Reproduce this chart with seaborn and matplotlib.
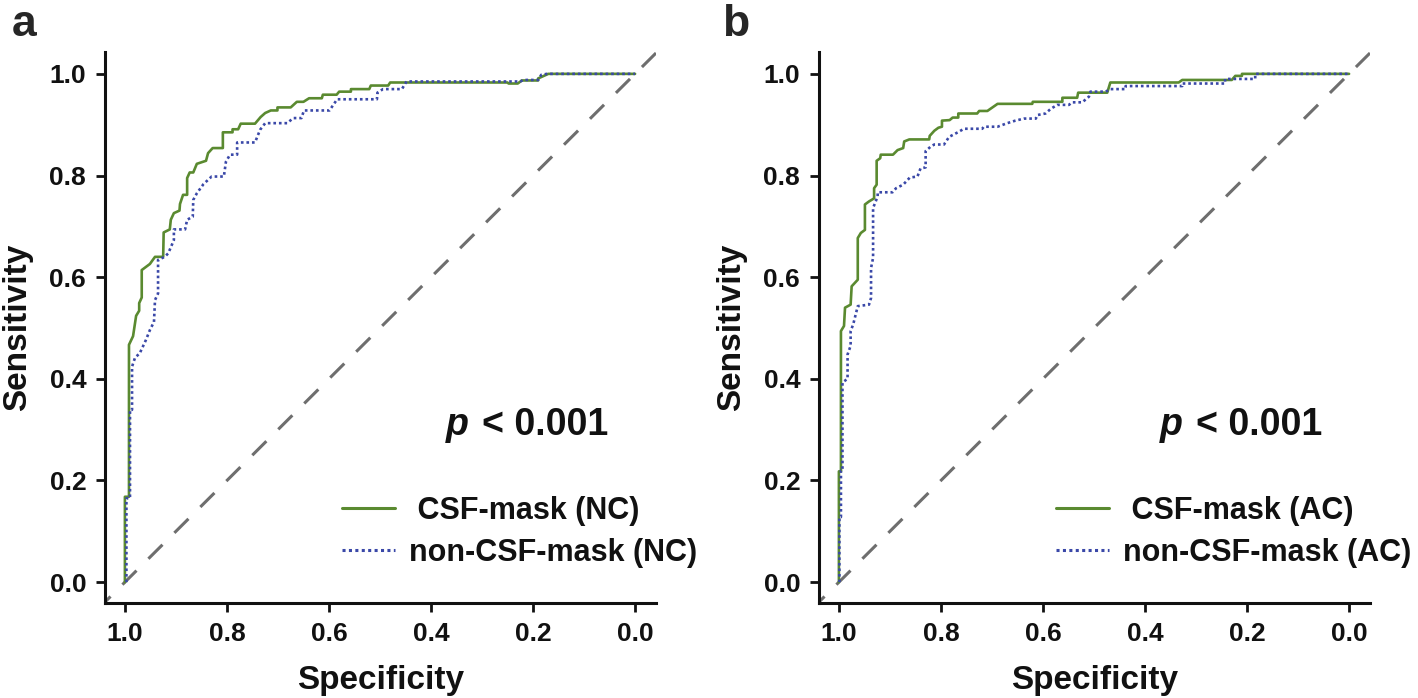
import numpy as np
import pandas as pd
import matplotlib
matplotlib.use("Agg")
import matplotlib.pyplot as plt
import seaborn as sns

# ---------------- data (1 - specificity, sensitivity) ----------------
a_csf_fpr = [0.0, 0.0, 0.008, 0.008, 0.016, 0.022, 0.028, 0.028, 0.033, 0.033, 0.049, 0.059, 0.075, 0.076,
             0.088, 0.090, 0.096, 0.107, 0.108, 0.114, 0.122, 0.122, 0.127, 0.134, 0.141, 0.159, 0.163, 0.172,
             0.192, 0.192, 0.211, 0.211, 0.222, 0.227, 0.255, 0.266, 0.275, 0.286, 0.299, 0.299, 0.325, 0.337,
             0.350, 0.361, 0.386, 0.388, 0.415, 0.420, 0.443, 0.443, 0.479, 0.482, 0.516, 0.520, 0.750, 0.752,
             0.770, 0.778, 0.810, 0.810, 0.830, 1.0]
a_csf_sens = [0.0, 0.168, 0.168, 0.467, 0.484, 0.524, 0.534, 0.549, 0.560, 0.614, 0.626, 0.640, 0.640, 0.688,
              0.694, 0.713, 0.726, 0.731, 0.744, 0.762, 0.762, 0.795, 0.806, 0.806, 0.823, 0.829, 0.844, 0.854,
              0.854, 0.885, 0.885, 0.891, 0.891, 0.902, 0.902, 0.915, 0.923, 0.928, 0.928, 0.934, 0.934, 0.945,
              0.945, 0.952, 0.952, 0.959, 0.959, 0.965, 0.965, 0.970, 0.970, 0.977, 0.977, 0.983, 0.983, 0.981,
              0.981, 0.987, 0.987, 0.991, 1.0, 1.0]

a_non_fpr = [0.003, 0.003, 0.010, 0.010, 0.014, 0.014, 0.020, 0.029, 0.041, 0.049, 0.057, 0.059, 0.065, 0.065,
             0.078, 0.085, 0.096, 0.096, 0.118, 0.122, 0.133, 0.134, 0.141, 0.154, 0.170, 0.194, 0.198, 0.206,
             0.220, 0.220, 0.255, 0.265, 0.275, 0.318, 0.330, 0.346, 0.351, 0.401, 0.416, 0.494, 0.495, 0.506,
             0.543, 0.552, 0.775, 0.781, 0.810, 0.816, 0.827, 1.0]
a_non_sens = [0.0, 0.165, 0.165, 0.339, 0.339, 0.424, 0.442, 0.450, 0.476, 0.496, 0.512, 0.555, 0.568, 0.634,
              0.640, 0.647, 0.673, 0.694, 0.694, 0.713, 0.719, 0.752, 0.765, 0.783, 0.798, 0.798, 0.827, 0.841,
              0.841, 0.865, 0.865, 0.890, 0.903, 0.903, 0.913, 0.913, 0.928, 0.928, 0.950, 0.950, 0.963, 0.970,
              0.970, 0.985, 0.985, 0.988, 0.988, 0.998, 1.0, 1.0]

b_csf_fpr = [0.0, 0.0, 0.004, 0.004, 0.010, 0.012, 0.023, 0.025, 0.037, 0.037, 0.043, 0.051, 0.051, 0.059,
             0.069, 0.069, 0.074, 0.074, 0.081, 0.082, 0.106, 0.115, 0.126, 0.128, 0.138, 0.177, 0.178, 0.187,
             0.195, 0.202, 0.202, 0.217, 0.223, 0.234, 0.234, 0.271, 0.275, 0.291, 0.301, 0.311, 0.379, 0.380,
             0.438, 0.438, 0.467, 0.469, 0.526, 0.532, 0.666, 0.673, 0.770, 0.777, 0.790, 0.790, 1.0]
b_csf_sens = [0.0, 0.218, 0.218, 0.494, 0.504, 0.540, 0.546, 0.582, 0.595, 0.677, 0.687, 0.693, 0.743, 0.749,
              0.755, 0.775, 0.782, 0.829, 0.834, 0.841, 0.841, 0.850, 0.854, 0.867, 0.871, 0.871, 0.878, 0.888,
              0.894, 0.896, 0.908, 0.909, 0.914, 0.914, 0.922, 0.922, 0.927, 0.927, 0.934, 0.941, 0.941, 0.945,
              0.945, 0.953, 0.953, 0.963, 0.963, 0.983, 0.983, 0.988, 0.988, 0.996, 0.996, 1.0, 1.0]

b_non_fpr = [0.001, 0.001, 0.004, 0.004, 0.007, 0.007, 0.017, 0.017, 0.023, 0.023, 0.028, 0.037, 0.059, 0.063,
             0.063, 0.067, 0.067, 0.076, 0.076, 0.105, 0.112, 0.126, 0.139, 0.154, 0.160, 0.170, 0.170, 0.180,
             0.187, 0.206, 0.216, 0.235, 0.245, 0.281, 0.284, 0.311, 0.330, 0.346, 0.363, 0.386, 0.389, 0.405,
             0.415, 0.428, 0.451, 0.457, 0.477, 0.490, 0.493, 0.523, 0.532, 0.562, 0.562, 0.673, 0.673, 0.757,
             0.757, 0.816, 0.816, 1.0]
b_non_sens = [0.0, 0.128, 0.128, 0.220, 0.220, 0.393, 0.400, 0.448, 0.465, 0.494, 0.507, 0.543, 0.546, 0.559,
              0.618, 0.638, 0.736, 0.759, 0.767, 0.767, 0.775, 0.782, 0.796, 0.798, 0.814, 0.816, 0.848, 0.857,
              0.861, 0.861, 0.876, 0.886, 0.892, 0.892, 0.896, 0.896, 0.903, 0.908, 0.912, 0.912, 0.919, 0.922,
              0.931, 0.939, 0.939, 0.944, 0.944, 0.955, 0.965, 0.965, 0.970, 0.970, 0.976, 0.976, 0.981, 0.981,
              0.990, 0.990, 1.0, 1.0]

panel_letters = ["a", "b"]
legend_labels = [[" CSF-mask (NC)", "non-CSF-mask (NC)"], [" CSF-mask (AC)", "non-CSF-mask (AC)"]]
p_text = "< 0.001"
tick_values = [1.0, 0.8, 0.6, 0.4, 0.2, 0.0]
tick_labels = ["1.0", "0.8", "0.6", "0.4", "0.2", "0.0"]

# ---------------- style ----------------
sns.set_theme(style="ticks")
plt.rcParams["font.family"] = ["Liberation Sans", "DejaVu Sans"]
plt.rcParams["font.weight"] = "bold"

GREEN = "#5a8a30"
BLUE = "#3a48a8"
GREY = "#6e6e6e"

W, H = 1418, 698
fig = plt.figure(figsize=(W / 100, H / 100), dpi=100)
fig.patch.set_facecolor("white")

ax_a = fig.add_axes([105 / W, 95 / H, 551 / W, 551 / H])
ax_b = fig.add_axes([819 / W, 95 / H, 551 / W, 551 / H])

panels = [
    (ax_a, a_csf_fpr, a_csf_sens, a_non_fpr, a_non_sens),
    (ax_b, b_csf_fpr, b_csf_sens, b_non_fpr, b_non_sens),
]

for i, (ax, cf, cs, nf, ns) in enumerate(panels):
    df_csf = pd.DataFrame({"spec": 1 - np.array(cf), "sens": cs})
    df_non = pd.DataFrame({"spec": 1 - np.array(nf), "sens": ns})
    ax.axline((1.0, 0.0), (0.0, 1.0), color=GREY, lw=2.2, dashes=(6.5, 5.5), zorder=1)
    sns.lineplot(data=df_csf, x="spec", y="sens", sort=False, estimator=None, ax=ax,
                 color=GREEN, lw=1.9, label=legend_labels[i][0], zorder=3)
    sns.lineplot(data=df_non, x="spec", y="sens", sort=False, estimator=None, ax=ax,
                 color=BLUE, lw=1.9, linestyle=(0, (1, 1.1)), label=legend_labels[i][1], zorder=4)
    ax.set_xlim(1.039, -0.041)
    ax.set_ylim(-0.041, 1.043)
    ax.set_xticks(tick_values)
    ax.set_xticklabels(tick_labels)
    ax.set_yticks(tick_values)
    ax.set_yticklabels(tick_labels)
    for side in ["top", "right"]:
        ax.spines[side].set_visible(False)
    for side in ["left", "bottom"]:
        ax.spines[side].set_linewidth(2.2)
        ax.spines[side].set_color("#111111")
    ax.tick_params(axis="both", length=6.5, width=2.0, color="#111111", labelsize=19, pad=7,
                   labelcolor="#111111")
    for lab in ax.get_xticklabels() + ax.get_yticklabels():
        lab.set_fontweight("bold")
    ax.set_xlabel("Specificity", fontsize=24, fontweight="bold", labelpad=14, color="#111111")
    ax.set_ylabel("Sensitivity", fontsize=24, fontweight="bold", labelpad=12, color="#111111")
    ax.set_facecolor("white")
    ax.text(0.371, 0.31, "p", fontsize=27, fontweight="bold", fontstyle="italic",
            ha="left", va="center", color="#111111")
    ax.text(0.300, 0.31, p_text, fontsize=27, fontweight="bold",
            ha="left", va="center", color="#111111")
    leg = ax.legend(loc="upper left", bbox_to_anchor=(0.43, 0.195), frameon=False,
                    fontsize=22, handlelength=1.75, handletextpad=0.45, labelspacing=0.4,
                    borderpad=0, borderaxespad=0)
    for t in leg.get_texts():
        t.set_fontweight("bold")
        t.set_color("#111111")
    for lh in leg.get_lines():
        lh.set_linewidth(2.2)

fig.text(12 / W, 1 - 4 / H, panel_letters[0], fontsize=32, fontweight="bold", ha="left", va="top")
fig.text(722 / W, 1 - 4 / H, panel_letters[1], fontsize=32, fontweight="bold", ha="left", va="top")

fig.savefig("out.png", dpi=100, facecolor="white")
